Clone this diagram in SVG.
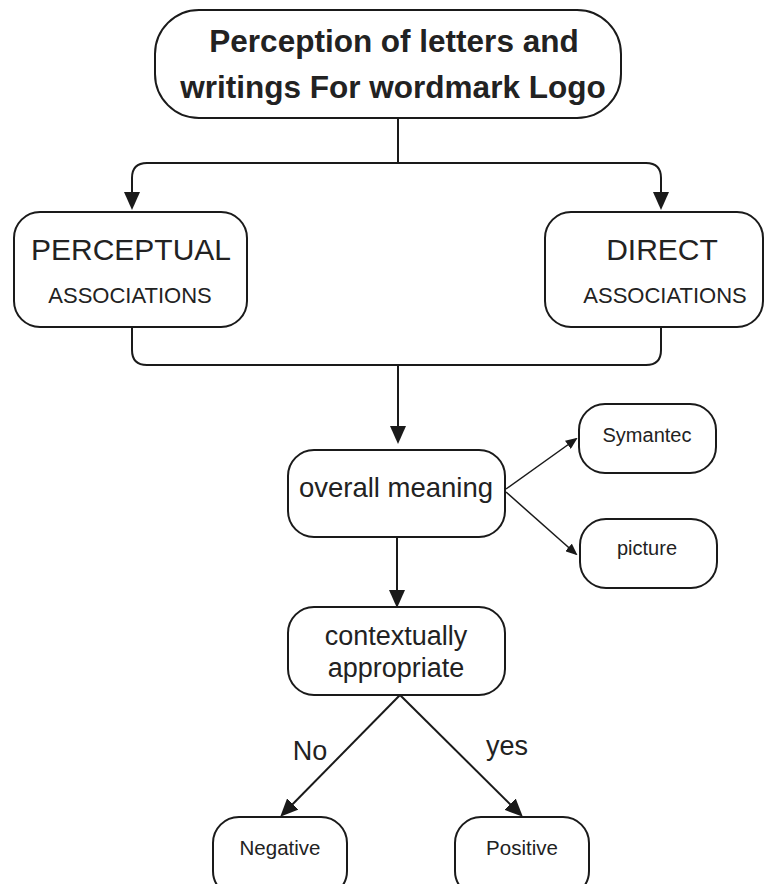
<svg xmlns="http://www.w3.org/2000/svg" width="765" height="884" viewBox="0 0 765 884">
<defs>
<style>
.box{fill:#fff;stroke:#1a1a1a;stroke-width:2}
.ln{fill:none;stroke:#1a1a1a;stroke-width:2}
.thin{fill:none;stroke:#1a1a1a;stroke-width:1.5}
text{font-family:"Liberation Sans",Arial,sans-serif;fill:#222;text-anchor:middle}
.b{font-weight:bold}
</style>
<marker id="ah" markerUnits="userSpaceOnUse" markerWidth="18" markerHeight="16" refX="14" refY="8" orient="auto">
<path d="M0,0 L18,8 L0,16 z" fill="#1a1a1a"/>
</marker>
<marker id="as" markerUnits="userSpaceOnUse" markerWidth="12" markerHeight="10" refX="10" refY="5" orient="auto">
<path d="M0,0 L12,5 L0,10 z" fill="#1a1a1a"/>
</marker>
</defs>
<rect width="765" height="884" fill="#fff"/>
<g id="connectors">
<path class="ln" d="M398,118 V163"/>
<path class="ln" d="M398,163 H147 Q132,163 132,178 V206" marker-end="url(#ah)"/>
<path class="ln" d="M398,163 H646 Q661,163 661,178 V206" marker-end="url(#ah)"/>
<path class="ln" d="M132,327 V350 Q132,365 147,365 H646 Q661,365 661,350 V327"/>
<path class="ln" d="M398,365 V440" marker-end="url(#ah)"/>
<path class="thin" d="M506,489 L576,439" marker-end="url(#as)"/>
<path class="thin" d="M506,492 L576,554" marker-end="url(#as)"/>
<path class="ln" d="M397,537 V604" marker-end="url(#ah)"/>
<path class="ln" d="M400,695 L283,814" marker-end="url(#ah)"/>
<path class="ln" d="M400,695 L520,814" marker-end="url(#ah)"/>
</g>
<g id="top">
<rect class="box" x="155" y="10" width="466" height="108" rx="44" ry="44"/>
<text class="b" x="394" y="52" font-size="31.5">Perception of letters and</text>
<text class="b" x="393" y="98" font-size="31.5">writings For wordmark Logo</text>
</g>
<g id="perceptual">
<rect class="box" x="14" y="212" width="233" height="115" rx="26" ry="26"/>
<text x="131" y="260" font-size="30">PERCEPTUAL</text>
<text x="130" y="303" font-size="22">ASSOCIATIONS</text>
</g>
<g id="direct">
<rect class="box" x="545" y="212" width="218" height="115" rx="26" ry="26"/>
<text x="662" y="260" font-size="30">DIRECT</text>
<text x="665" y="303" font-size="22">ASSOCIATIONS</text>
</g>
<g id="overall">
<rect class="box" x="288" y="450" width="217" height="87" rx="26" ry="26"/>
<text x="396" y="497" font-size="27.5">overall meaning</text>
</g>
<g id="symantec">
<rect class="box" x="579" y="404" width="137" height="69" rx="26" ry="26"/>
<text x="647" y="442" font-size="20">Symantec</text>
</g>
<g id="picture">
<rect class="box" x="580" y="519" width="137" height="69" rx="26" ry="26"/>
<text x="647" y="555" font-size="20">picture</text>
</g>
<g id="contextual">
<rect class="box" x="288" y="607" width="217" height="88" rx="26" ry="26"/>
<text x="396" y="645" font-size="27">contextually</text>
<text x="396" y="677" font-size="27">appropriate</text>
</g>
<g id="labels">
<text x="310" y="760" font-size="27">No</text>
<text x="507" y="755" font-size="27">yes</text>
</g>
<g id="negative">
<rect class="box" x="213" y="817" width="134" height="80" rx="26" ry="26"/>
<text x="280" y="855" font-size="20.5">Negative</text>
</g>
<g id="positive">
<rect class="box" x="455" y="817" width="134" height="80" rx="26" ry="26"/>
<text x="522" y="855" font-size="20.5">Positive</text>
</g>
</svg>
